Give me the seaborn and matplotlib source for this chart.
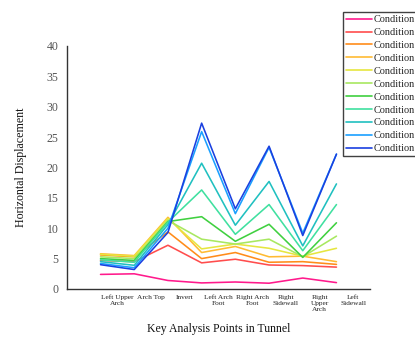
import numpy as np
import pandas as pd
import matplotlib
matplotlib.use("Agg")
import matplotlib.pyplot as plt
import seaborn as sns
from matplotlib.ticker import MultipleLocator

# Key analysis points (x positions 1..8)
points = ["Left Upper\nArch", "Arch Top", "Invert", "Left Arch\nFoot",
          "Right Arch\nFoot", "Right\nSidewall", "Right\nUpper\nArch", "Left\nSidewall"]

conditions = [f"Condition {i}" for i in range(1, 12)]

# Horizontal displacement per condition at each key point
cond_1 = [2.4, 2.5, 1.4, 1.0, 1.15, 0.95, 1.8, 1.05]
cond_2 = [4.7, 4.5, 7.2, 4.3, 4.9, 3.95, 3.85, 3.6]
cond_3 = [5.6, 5.3, 9.4, 5.0, 6.0, 4.4, 4.5, 4.05]
cond_4 = [5.8, 5.5, 11.8, 6.0, 7.0, 5.3, 5.4, 4.5]
cond_5 = [5.7, 5.4, 11.6, 6.6, 7.4, 6.7, 5.4, 6.7]
cond_6 = [5.3, 5.0, 11.3, 8.2, 7.4, 8.2, 5.3, 8.7]
cond_7 = [5.0, 4.7, 11.1, 11.9, 7.85, 10.65, 5.2, 10.9]
cond_8 = [4.8, 4.4, 11.0, 16.3, 9.0, 13.9, 6.3, 13.9]
cond_9 = [4.5, 3.9, 10.6, 20.7, 10.5, 17.7, 7.1, 17.3]
cond_10 = [4.2, 3.5, 10.0, 25.9, 12.4, 23.3, 9.2, 22.2]
cond_11 = [4.0, 3.2, 9.3, 27.3, 13.2, 23.5, 8.8, 22.2]

series = [cond_1, cond_2, cond_3, cond_4, cond_5, cond_6,
          cond_7, cond_8, cond_9, cond_10, cond_11]

palette = ["#ff1a8c", "#ff4d4d", "#ff8c1a", "#ffbb33", "#e6e640", "#a8e860",
           "#40d040", "#40e0a0", "#20c0c0", "#1aa0ff", "#1a40e0"]

rows = []
for name, vals in zip(conditions, series):
    for pos, v in enumerate(vals, start=1):
        rows.append({"pos": pos, "value": v, "condition": name})
df = pd.DataFrame(rows)

sns.set_style("white")
plt.rcParams["font.family"] = ["Liberation Serif", "DejaVu Serif"]

fig = plt.figure(figsize=(4.15, 3.38), dpi=100)
ax = fig.add_axes([0.161, 0.145, 0.731, 0.719])

sns.lineplot(data=df, x="pos", y="value", hue="condition", palette=palette,
             linewidth=1.15, ax=ax, legend=True)

ax.set_xlim(0, 9)
ax.set_ylim(0, 40)

for side in ("top", "right"):
    ax.spines[side].set_visible(False)
for side in ("left", "bottom"):
    ax.spines[side].set_color("#333333")
    ax.spines[side].set_linewidth(1.0)

# major x ticks at the data positions, labels sit on the half-way minor ticks
ax.set_xticks(np.arange(0, 10))
ax.set_xticklabels([])
ax.set_xticks(np.arange(0.5, 9, 1.0), minor=True)
ax.set_xticklabels([""] + points, minor=True, fontsize=5.3, color="#222222",
                   linespacing=1.3)
ax.tick_params(axis="x", which="major", direction="out", length=4, width=0.8,
               color="#333333")
ax.tick_params(axis="x", which="minor", direction="out", length=2.5, width=0.8,
               color="#333333", pad=1.5)

ax.yaxis.set_major_locator(MultipleLocator(5))
ax.yaxis.set_minor_locator(MultipleLocator(2.5))
ax.tick_params(axis="y", which="major", direction="out", length=4, width=0.8,
               color="#333333", labelsize=8.5, labelcolor="#555555", pad=2)
ax.tick_params(axis="y", which="minor", direction="out", length=2, width=0.8,
               color="#333333")
ax.grid(False)

ax.set_xlabel("Key Analysis Points in Tunnel", fontsize=8.5, labelpad=8,
              color="#111111")
ax.set_ylabel("Horizontal Displacement", fontsize=8.6, labelpad=14,
              color="#111111")

handles, _ = ax.get_legend_handles_labels()
leg = ax.legend(handles, ["Condition"] * len(handles), loc="upper left",
                bbox_to_anchor=(343 / 415, 1 - 12 / 338),
                bbox_transform=fig.transFigure, fontsize=7.4,
                frameon=True, fancybox=False, borderpad=0.3,
                labelspacing=0.36, handlelength=2.5, handletextpad=0.2,
                borderaxespad=0)
leg.get_frame().set_edgecolor("#111111")
leg.get_frame().set_linewidth(1.0)
for line in leg.get_lines():
    line.set_linewidth(1.2)

fig.savefig("out.png", dpi=100)
